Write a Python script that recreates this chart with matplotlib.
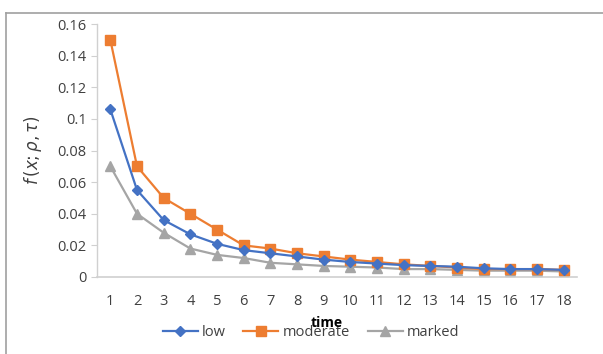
import numpy as np
import matplotlib.pyplot as plt
from matplotlib.lines import Line2D

# data
time = list(range(1, 19))
low = [0.106, 0.055, 0.036, 0.027, 0.021, 0.017, 0.015, 0.013, 0.011, 0.0095,
       0.0085, 0.0075, 0.007, 0.0065, 0.0055, 0.005, 0.005, 0.0045]
moderate = [0.150, 0.070, 0.050, 0.040, 0.030, 0.020, 0.018, 0.015, 0.013, 0.011,
            0.0095, 0.008, 0.007, 0.006, 0.005, 0.005, 0.005, 0.0045]
marked = [0.070, 0.040, 0.028, 0.018, 0.014, 0.012, 0.009, 0.008, 0.007, 0.0065,
          0.006, 0.005, 0.005, 0.0045, 0.004, 0.004, 0.004, 0.0035]
yticks = [0, 0.02, 0.04, 0.06, 0.08, 0.1, 0.12, 0.14, 0.16]
ytick_labels = ['0', '0.02', '0.04', '0.06', '0.08', '0.1', '0.12', '0.14', '0.16']

plt.rcParams['font.family'] = ['Open Sans', 'DejaVu Sans']
txt = '#404040'

fig = plt.figure(figsize=(6.03, 3.54), dpi=100)
# chart area border (only top and left visible in the crop)
fig.add_artist(Line2D([6/603, 1], [1-13/354, 1-13/354], color='#a0a0a0', lw=1.2))
fig.add_artist(Line2D([6/603, 6/603], [0, 1-13/354], color='#a0a0a0', lw=1.2))

ax = fig.add_axes([97/603, 1-277/354, 480/603, 253/354])

ax.plot(time, low, color='#4472C4', marker='D', ms=5, lw=1.6, label='low', zorder=4)
ax.plot(time, moderate, color='#ED7D31', marker='s', ms=7, lw=1.6, label='moderate', zorder=3)
ax.plot(time, marked, color='#A5A5A5', marker='^', ms=7, lw=1.6, label='marked', zorder=2)

ax.set_xlim(0.5, 18.5)
ax.set_ylim(0, 0.16)
ax.set_xticks(time)
ax.set_yticks(yticks)
ax.set_yticklabels(ytick_labels)
ax.tick_params(axis='x', length=0, pad=12, labelsize=10.5, colors=txt)
ax.tick_params(axis='y', length=4, color='#d0d0d0', labelsize=10.5, colors=txt)

for s in ['top', 'right']:
    ax.spines[s].set_visible(False)
ax.spines['left'].set_color('#d0d0d0')
ax.spines['bottom'].set_color('#d0d0d0')
ax.spines['left'].set_linewidth(1)
ax.spines['bottom'].set_linewidth(1.2)

ax.set_ylabel(r'$f\,(x;\rho,\tau)$', fontsize=12, color=txt, labelpad=10)
fig.text(327/603, 1-323/354, 'time', fontsize=10, fontweight='bold',
         ha='center', va='center', color='black')

leg = ax.legend(loc='center', bbox_to_anchor=(311/603, 1-333/354),
                bbox_transform=fig.transFigure, ncol=3, frameon=False,
                fontsize=10.5, handlelength=2.4, columnspacing=1.2, handletextpad=0.3)
for t in leg.get_texts():
    t.set_color(txt)

fig.savefig('out.png', dpi=100)
